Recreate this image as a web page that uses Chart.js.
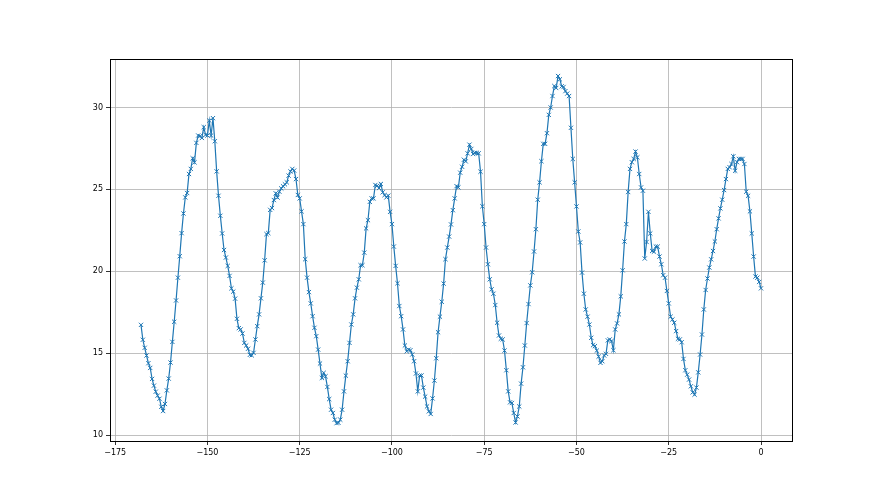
<!DOCTYPE html>
<html>
<head>
<meta charset="utf-8">
<script src="https://cdn.jsdelivr.net/npm/chart.js@4.4.1/dist/chart.umd.min.js"></script>
<style>
  html, body { margin: 0; padding: 0; background: #fff; }
  #wrap { width: 880px; height: 495px; position: relative; }
</style>
</head>
<body>
<div id="wrap"><canvas id="chart"></canvas></div>
<script>
"use strict";

// Hours before now: first reading and spacing between readings
const startHour = -168;
const stepHour = 0.5;

// Readings, one row per 10 hours (first row starts at -168)
const readings = [
    16.73, 15.82, 15.33, 14.86, 14.39, 14.10, 13.43, 13.02, 12.65, 12.41, 12.22, 11.73, 11.47, 11.90, 12.73, 13.45,
    14.43, 15.69, 16.92, 18.22, 19.61, 20.92, 22.33, 23.53, 24.51, 24.78, 25.94, 26.25, 26.90, 26.65, 27.84, 28.29, 28.25, 28.14, 28.80, 28.33,
    28.29, 29.20, 28.29, 29.35, 27.94, 26.10, 24.61, 23.39, 22.31, 21.30, 20.84, 20.33, 19.72, 18.96, 18.76, 18.33, 17.10, 16.53, 16.45, 16.20,
    15.63, 15.47, 15.27, 14.90, 14.87, 15.02, 15.84, 16.65, 17.37, 18.35, 19.31, 20.67, 22.27, 22.33, 23.75, 23.86, 24.35, 24.76, 24.50, 24.86,
    25.06, 25.19, 25.31, 25.43, 25.84, 26.10, 26.25, 26.15, 25.63, 24.66, 24.45, 23.66, 22.88, 20.74, 19.61, 18.73, 18.04, 17.26, 16.55, 16.04,
    15.22, 14.37, 13.49, 13.80, 13.59, 12.94, 12.20, 11.55, 11.35, 10.94, 10.73, 10.75, 10.94, 11.55, 12.67, 13.63, 14.51, 15.63, 16.75, 17.37,
    18.35, 19.00, 19.51, 20.37, 20.37, 21.14, 22.62, 23.12, 24.24, 24.45, 24.45, 25.27, 25.22, 25.08, 25.33, 24.82, 24.65, 24.51, 24.62, 23.63,
    22.88, 21.51, 20.33, 19.27, 17.88, 17.26, 16.45, 15.47, 15.12, 15.22, 15.18, 14.92, 14.51, 13.76, 12.67, 13.63, 13.64, 12.90, 12.35, 11.75,
    11.45, 11.29, 12.24, 13.33, 14.69, 16.28, 17.23, 18.14, 19.25, 20.74, 21.45, 22.12, 22.86, 23.73, 24.45, 25.20, 25.12, 26.02, 26.38, 26.81,
    26.71, 27.20, 27.73, 27.47, 27.16, 27.23, 27.23, 27.20, 26.08, 23.97, 22.88, 21.45, 20.43, 19.51, 18.90, 18.63, 17.94, 16.86, 16.08, 15.88,
    15.84, 15.16, 13.96, 12.67, 12.00, 11.96, 11.35, 10.77, 11.14, 11.75, 13.14, 14.14, 15.47, 16.84, 18.00, 19.14, 19.94, 21.21, 22.57, 24.37,
    25.43, 26.72, 27.78, 27.78, 28.43, 29.55, 30.00, 30.70, 31.31, 31.19, 31.92, 31.72, 31.29, 31.25, 31.00, 30.85, 30.70, 28.76, 26.86, 25.43,
    23.96, 22.43, 21.76, 19.92, 18.63, 17.67, 17.23, 16.75, 15.94, 15.49, 15.43, 15.16, 14.79, 14.41, 14.51, 14.86, 14.96, 15.78, 15.84, 15.74,
    15.18, 16.45, 16.82, 17.37, 18.47, 20.06, 21.82, 22.88, 24.84, 26.25, 26.66, 26.86, 27.31, 26.96, 25.94, 25.12, 24.92, 20.78, 21.79, 23.63,
    22.31, 21.24, 21.20, 21.51, 21.51, 20.90, 20.43, 19.76, 19.61, 18.80, 18.04, 17.23, 17.06, 16.86, 16.35, 15.88, 15.84, 15.67, 14.65, 13.96,
    13.69, 13.39, 12.98, 12.61, 12.47, 12.90, 13.83, 14.92, 16.14, 17.67, 18.86, 19.56, 20.23, 20.73, 21.24, 21.82, 22.57, 23.23, 23.84, 24.37,
    24.96, 25.63, 26.25, 26.35, 26.55, 27.02, 26.14, 26.66, 26.86, 26.86, 26.86, 26.55, 24.86, 24.61, 23.66, 22.31, 20.90, 19.68, 19.61, 19.35, 18.96
];

// Axis ticks and limits
const xTicks = [-175, -150, -125, -100, -75, -50, -25, 0];
const yTicks = [10, 15, 20, 25, 30];
const xLimits = [-176.4, 8.4];
const yLimits = [9.64, 32.96];

const points = readings.map((v, i) => ({ x: startHour + i * stepHour, y: v }));

const fmt = v => (v < 0 ? '\u2212' + Math.abs(v) : String(v));

// Top and right spines like matplotlib
const framePlugin = {
    id: 'frame',
    afterDraw(chart) {
        const a = chart.chartArea;
        const ctx = chart.ctx;
        ctx.save();
        ctx.strokeStyle = '#000';
        ctx.lineWidth = 1;
        ctx.strokeRect(Math.round(a.left) + 0.5, Math.round(a.top) + 0.5,
            Math.round(a.right - a.left), Math.round(a.bottom - a.top));
        ctx.restore();
    }
};

const ctx = document.getElementById('chart');
new Chart(ctx, {
    type: 'scatter',
    data: {
        datasets: [{
            data: points,
            showLine: true,
            borderColor: '#1f77b4',
            borderWidth: 1.2,
            pointStyle: 'crossRot',
            pointRadius: 3,
            pointBorderWidth: 1,
            pointBorderColor: '#1f77b4',
            pointBackgroundColor: '#1f77b4',
            tension: 0
        }]
    },
    options: {
        responsive: true,
        maintainAspectRatio: false,
        animation: false,
        layout: { padding: { left: 0, top: 59, right: 88, bottom: 0 } },
        plugins: {
            legend: { display: false },
            tooltip: { enabled: false }
        },
        scales: {
            x: {
                type: 'linear',
                min: xLimits[0],
                max: xLimits[1],
                afterBuildTicks: s => { s.ticks = xTicks.map(v => ({ value: v })); },
                afterFit: s => { s.height = 54; },
                grid: { color: '#b0b0b0', lineWidth: 0.8, tickColor: '#000', tickLength: 4 },
                border: { color: '#000', width: 1 },
                ticks: {
                    color: '#000',
                    padding: 3,
                    maxRotation: 0,
                    font: { family: 'DejaVu Sans', size: 8 },
                    callback: v => fmt(v)
                }
            },
            y: {
                min: yLimits[0],
                max: yLimits[1],
                afterBuildTicks: s => { s.ticks = yTicks.map(v => ({ value: v })); },
                afterFit: s => { s.width = 110; },
                grid: { color: '#b0b0b0', lineWidth: 0.8, tickColor: '#000', tickLength: 4 },
                border: { color: '#000', width: 1 },
                ticks: {
                    color: '#000',
                    padding: 3,
                    font: { family: 'DejaVu Sans', size: 8 },
                    callback: v => fmt(v)
                }
            }
        }
    },
    plugins: [framePlugin]
});
</script>
</body>
</html>
